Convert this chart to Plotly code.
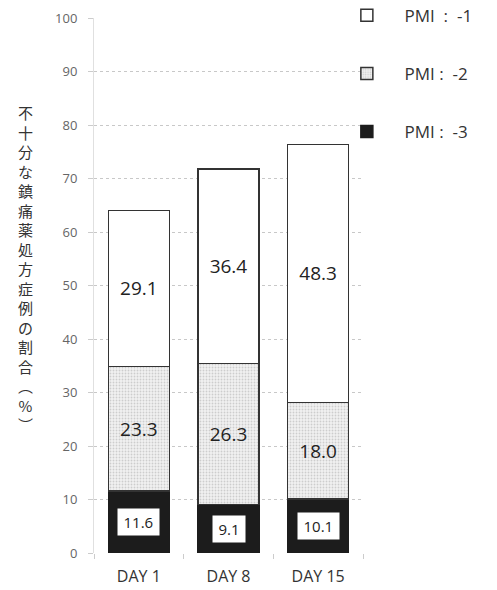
import plotly.graph_objects as go

categories = ["DAY 1", "DAY 8", "DAY 15"]
pmi3 = [11.6, 9.1, 10.1]
pmi2 = [23.3, 26.3, 18.0]
pmi1 = [29.1, 36.4, 48.3]
pad = "\u00a0" * 4
series_names = [pad + "PMI\u00a0:\u00a0\u00a0-3", pad + "PMI\u00a0:\u00a0\u00a0-2",
                pad + "PMI\u00a0\u00a0:\u00a0\u00a0-1"]
y_title_chars = list("不十分な鎮痛薬処方症例の割合") + ["︵", "%", "︶"]
y_ticks = [0, 10, 20, 30, 40, 50, 60, 70, 80, 90, 100]

outline = "#333333"
fig = go.Figure()
fig.add_trace(go.Bar(
    x=categories, y=pmi3, name=series_names[0], legendgroup="g3", legendrank=3,
    marker=dict(color="#1c1c1c", line=dict(color="#1c1c1c", width=1.5)),
))
fig.add_trace(go.Bar(
    x=categories, y=pmi2, name=series_names[1], legendgroup="g2", legendrank=2,
    marker=dict(color="#eeeeee", line=dict(color=outline, width=1.5),
                pattern=dict(shape=".", fgcolor="#a8a8a8", bgcolor="#f2f2f2",
                             size=3, solidity=0.3)),
    text=[f"{v:.1f}" for v in pmi2], textposition="inside",
    insidetextanchor="middle", textangle=0,
    textfont=dict(size=19, color="#222222", family="Open Sans"),
))
fig.add_trace(go.Bar(
    x=categories, y=pmi1, name=series_names[2], legendgroup="g1", legendrank=1,
    marker=dict(color="#ffffff", line=dict(color=outline, width=1.5)),
    text=[f"{v:.1f}" for v in pmi1], textposition="inside",
    insidetextanchor="middle", textangle=0,
    textfont=dict(size=19, color="#222222", family="Open Sans"),
))

for c, v in zip(categories, pmi3):
    fig.add_annotation(x=c, y=v / 2, xref="x", yref="y",
                       text="\u2009" + f"{v:.1f}" + "\u2009",
                       showarrow=False, bgcolor="white", borderpad=3,
                       font=dict(size=15, color="#222222", family="Open Sans"))

fig.add_annotation(xref="paper", yref="paper", x=-0.255, y=0.5145,
                   xanchor="center", yanchor="middle", showarrow=False,
                   text="<br>".join(y_title_chars),
                   font=dict(size=15, color="#333333", family="Noto Sans CJK JP"))

fig.update_layout(
    width=497, height=590,
    margin=dict(l=94, r=134, t=0, b=37, autoexpand=False),
    barmode="stack", bargap=0.32,
    plot_bgcolor="white", paper_bgcolor="white",
    font=dict(family="Open Sans", color="#333333"),
    showlegend=True,
    legend=dict(x=0.94, y=1.004, xanchor="left", yanchor="top",
                traceorder="grouped", tracegroupgap=33,
                font=dict(size=17, color="#333333"), bgcolor="rgba(0,0,0,0)"),
    xaxis=dict(showgrid=False, showline=False, ticks="outside", tickson="boundaries",
               ticklen=5, tickcolor="#cccccc", ticklabelstandoff=12,
               tickfont=dict(size=16, color="#333333")),
    yaxis=dict(range=[0, 100], tickvals=y_ticks, showgrid=True, gridcolor="#c8c8c8",
               domain=[0, 535 / 553],
               griddash="dot", gridwidth=1, zeroline=False, showline=True,
               linecolor="#e0e0e0", ticks="outside", ticklen=5, tickcolor="#cccccc",
               ticklabelstandoff=8,
               tickfont=dict(size=13, color="#666666")),
)

fig.write_html("out.html")
